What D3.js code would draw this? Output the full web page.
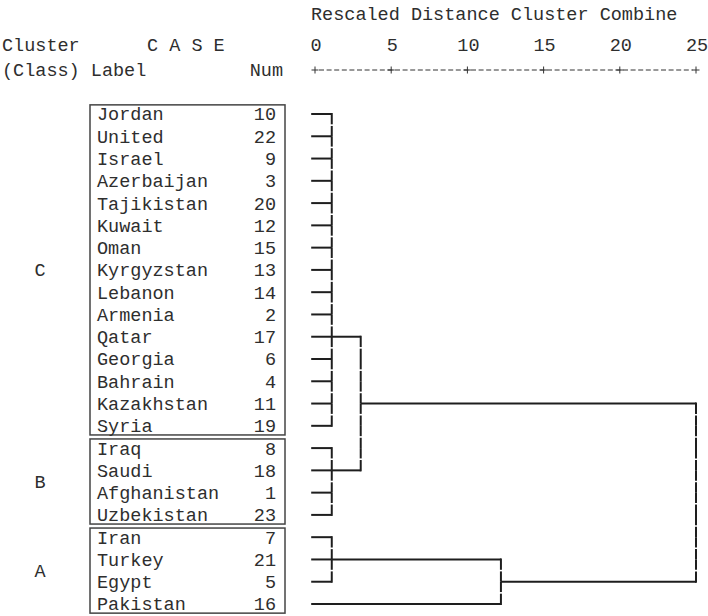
<!DOCTYPE html>
<html>
<head>
<meta charset="utf-8">
<script src="https://cdn.jsdelivr.net/npm/d3@7"></script>
<style>
  body { margin: 0; background: white; }
  text { font-family: "Courier New", Courier, "Nimbus Mono PS", FreeMono, "Liberation Mono", monospace; fill: #2e2e2e; }
</style>
</head>
<body>
<div id="chart"></div>
<script>
// dendrogram data (case order as drawn)
const labels = ["Jordan", "United", "Israel", "Azerbaijan", "Tajikistan", "Kuwait", "Oman",
  "Kyrgyzstan", "Lebanon", "Armenia", "Qatar", "Georgia", "Bahrain", "Kazakhstan", "Syria",
  "Iraq", "Saudi", "Afghanistan", "Uzbekistan", "Iran", "Turkey", "Egypt", "Pakistan"];
const caseNums = [10, 22, 9, 3, 20, 12, 15, 13, 14, 2, 17, 6, 4, 11, 19, 8, 18, 1, 23, 7, 21, 5, 16];

// cluster classes: name, first row, last row
const classNames = ["C", "B", "A"];
const classFirst = [0, 15, 19];
const classLast = [14, 18, 22];

// joins: children are leaf rows (numbers) or join ids ("j0"...)
const joinChildren = [
  [0, 1, 2, 3, 4, 5, 6, 7, 8, 9, 10, 11, 12, 13, 14],
  [15, 16, 17, 18],
  [19, 20, 21],
  ["j0", "j1"],
  ["j2", 22],
  ["j3", "j4"]
];
const joinHeights = [1.1, 1.1, 1.1, 3, 12.2, 25];
const joinRows = [10, 16, 20, 13, 21, null];

const distTicks = [0, 5, 10, 15, 20, 25];
const leafStart = -0.25;

const W = 708, H = 616;
const svg = d3.select("#chart").append("svg")
    .attr("width", W).attr("height", H);

const x = d3.scaleLinear().domain([0, 25]).range([315, 696]);
const y = d3.scaleLinear().domain([0, labels.length - 1]).range([114, 604]);
const step = y(1) - y(0);

const fs = "18.5px";

// header
svg.append("text").attr("x", 311).attr("y", 14).attr("dy", "0.35em")
    .style("font-size", fs).text("Rescaled Distance Cluster Combine");
svg.append("text").attr("x", 2).attr("y", 45).attr("dy", "0.35em")
    .style("font-size", fs).text("Cluster");
svg.append("text").attr("x", 147).attr("y", 45).attr("dy", "0.35em")
    .style("font-size", fs).text("C A S E");
svg.append("text").attr("x", 2).attr("y", 70).attr("dy", "0.35em")
    .style("font-size", fs).text("(Class) Label");
svg.append("text").attr("x", 283).attr("y", 70).attr("dy", "0.35em")
    .attr("text-anchor", "end").style("font-size", fs).text("Num");

// distance ruler
svg.selectAll(".tick-label").data(distTicks).enter().append("text")
    .attr("class", "tick-label")
    .attr("x", d => x(d) + 1).attr("y", 45).attr("dy", "0.35em")
    .attr("text-anchor", "middle").style("font-size", fs)
    .text(d => d);

svg.append("line")
    .attr("x1", x(0) + 4).attr("x2", x(25) - 3)
    .attr("y1", 70).attr("y2", 70)
    .attr("stroke", "#333").attr("stroke-width", 1)
    .attr("stroke-dasharray", "5,2.6");

const plus = svg.selectAll(".plus").data(distTicks).enter().append("g")
    .attr("class", "plus")
    .attr("transform", d => `translate(${x(d)},70)`);
plus.append("line").attr("x1", -3.5).attr("x2", 3.5).attr("stroke", "#333").attr("stroke-width", 1);
plus.append("line").attr("y1", -3.5).attr("y2", 3.5).attr("stroke", "#333").attr("stroke-width", 1);

// class boxes and letters
classNames.forEach((c, i) => {
    const top = y(classFirst[i]) - step / 2 + 2;
    const bottom = y(classLast[i]) + step / 2 - 2;
    svg.append("rect")
        .attr("x", 90).attr("y", top)
        .attr("width", 195).attr("height", bottom - top)
        .attr("fill", "none").attr("stroke", "#444").attr("stroke-width", 1.5);
    svg.append("text")
        .attr("x", 40).attr("y", (top + bottom) / 2).attr("dy", "0.35em")
        .attr("text-anchor", "middle").style("font-size", fs).text(c);
});

// case labels and numbers
svg.selectAll(".case-label").data(labels).enter().append("text")
    .attr("class", "case-label")
    .attr("x", 97).attr("y", (d, i) => y(i)).attr("dy", "0.35em")
    .style("font-size", fs).text(d => d);
svg.selectAll(".case-num").data(caseNums).enter().append("text")
    .attr("class", "case-num")
    .attr("x", 276).attr("y", (d, i) => y(i)).attr("dy", "0.35em")
    .attr("text-anchor", "end").style("font-size", fs).text(d => d);

// dendrogram links
const links = svg.append("g")
    .attr("stroke", "#1e1e1e").attr("stroke-width", 2).attr("fill", "none");

function childRow(c) {
    return typeof c === "number" ? c : joinRows[+c.slice(1)];
}
function childHeight(c) {
    return typeof c === "number" ? leafStart : joinHeights[+c.slice(1)];
}

joinChildren.forEach((kids, j) => {
    const hx = x(joinHeights[j]);
    kids.forEach(c => {
        links.append("line")
            .attr("x1", x(childHeight(c))).attr("x2", hx)
            .attr("y1", y(childRow(c))).attr("y2", y(childRow(c)));
    });
    const rows = kids.map(childRow);
    const r0 = d3.min(rows), r1 = d3.max(rows);
    // vertical drawn row by row, leaving the small gaps of the text output
    for (let r = r0; r < r1; r++) {
        const mid = (y(r) + y(r + 1)) / 2;
        links.append("line").attr("x1", hx).attr("x2", hx)
            .attr("y1", r === r0 ? y(r) - 1 : y(r)).attr("y2", mid - 0.8);
        links.append("line").attr("x1", hx).attr("x2", hx)
            .attr("y1", mid + 0.8).attr("y2", r + 1 === r1 ? y(r + 1) + 1 : y(r + 1));
    }
});
</script>
</body>
</html>
